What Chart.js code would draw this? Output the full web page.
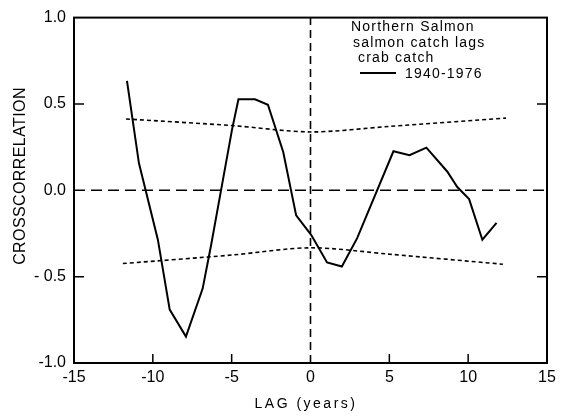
<!DOCTYPE html>
<html>
<head>
<meta charset="utf-8">
<script src="https://cdn.jsdelivr.net/npm/chart.js@4/dist/chart.umd.min.js"></script>
<style>
  html, body { margin: 0; padding: 0; background: #fff; }
  #wrap { width: 563px; height: 417px; position: relative; }
</style>
</head>
<body>
<div id="wrap"><canvas id="c" width="563" height="417"></canvas></div>
<script>
// Main crosscorrelation series (lag in years, correlation)
const lags = [-11.64, -10.88, -9.68, -8.93, -7.90, -6.84, -6.3, -4.98, -4.57, -3.52, -2.70, -1.73, -0.91, 0.04, 1.05, 1.99, 2.96, 5.26, 6.28, 7.35, 8.67, 9.31, 10.06, 10.9, 11.8];
const corr = [0.633, 0.156, -0.286, -0.691, -0.847, -0.569, -0.315, 0.35, 0.527, 0.527, 0.495, 0.222, -0.145, -0.258, -0.418, -0.441, -0.277, 0.226, 0.203, 0.247, 0.109, 0.019, -0.051, -0.286, -0.188];

// Confidence bands (dotted)
const upperLags = [-11.7, -5, 0, 5, 12.4];
const upperVals = [0.413, 0.375, 0.338, 0.37, 0.418];
const lowerLags = [-11.9, -5, 0, 5, 12.2];
const lowerVals = [-0.424, -0.375, -0.333, -0.37, -0.428];

// Axis ticks
const xTicks = [-15, -10, -5, 0, 5, 10, 15];
const xTickLabels = ['-15', '-10', '-5', '0', '5', '10', '15'];
const yTicks = [-1.0, -0.5, 0.0, 0.5, 1.0];
const yTickLabels = ['-1.0', '- 0.5', '0.0', '0.5', '1.0'];

// Legend / annotation text
const legendLines = ['Northern Salmon', 'salmon catch lags', 'crab catch'];
const legendSeries = '1940-1976';
const xTitle = 'LAG (years)';
const yTitle = 'CROSSCORRELATION';

const toXY = (xs, ys) => xs.map((x, i) => ({ x: x, y: ys[i] }));

const FONT = '"Liberation Sans", Arial, sans-serif';

const decor = {
  id: 'decor',
  afterDraw(chart) {
    const ctx = chart.ctx;
    const a = chart.chartArea;
    const xs = chart.scales.x, ys = chart.scales.y;
    ctx.save();
    // frame
    ctx.strokeStyle = '#000';
    ctx.lineWidth = 2;
    ctx.setLineDash([]);
    ctx.strokeRect(a.left, a.top, a.right - a.left, a.bottom - a.top);
    // inward ticks
    ctx.lineWidth = 1.5;
    ctx.beginPath();
    [-10, -5, 5, 10].forEach(v => {
      const px = xs.getPixelForValue(v);
      ctx.moveTo(px, a.bottom);
      ctx.lineTo(px, a.bottom - 9);
    });
    [-0.5, 0.5].forEach(v => {
      const py = ys.getPixelForValue(v);
      ctx.moveTo(a.left, py);
      ctx.lineTo(a.left + 10, py);
      ctx.moveTo(a.right, py);
      ctx.lineTo(a.right - 10, py);
    });
    ctx.stroke();
    // legend text
    ctx.fillStyle = '#000';
    ctx.font = '14px ' + FONT;
    ctx.textBaseline = 'middle';
    ctx.textAlign = 'left';
    try { ctx.letterSpacing = '1.2px'; } catch (e) {}
    ctx.fillText(legendLines[0], 351, 27);
    ctx.fillText(legendLines[1], 353, 43);
    ctx.fillText(legendLines[2], 358, 58);
    ctx.fillText(legendSeries, 405, 74);
    ctx.lineWidth = 2;
    ctx.beginPath();
    ctx.moveTo(360, 73);
    ctx.lineTo(396, 73);
    ctx.stroke();
    // axis titles
    ctx.font = '14px ' + FONT;
    try { ctx.letterSpacing = '2.5px'; } catch (e) {}
    ctx.textAlign = 'center';
    ctx.fillText(xTitle, 306, 404);
    try { ctx.letterSpacing = '0.4px'; } catch (e) {}
    ctx.font = '16px ' + FONT;
    ctx.translate(21, 176);
    ctx.rotate(-Math.PI / 2);
    ctx.fillText(yTitle, 0, 0);
    ctx.restore();
  }
};

new Chart(document.getElementById('c'), {
  type: 'scatter',
  data: {
    datasets: [
      {
        data: toXY(lags, corr),
        showLine: true, borderColor: '#000', borderWidth: 2,
        pointRadius: 0, tension: 0, fill: false
      },
      {
        data: toXY(upperLags, upperVals),
        showLine: true, borderColor: '#000', borderWidth: 1.6, borderDash: [4, 3],
        pointRadius: 0, tension: 0.3, fill: false
      },
      {
        data: toXY(lowerLags, lowerVals),
        showLine: true, borderColor: '#000', borderWidth: 1.6, borderDash: [4, 3],
        pointRadius: 0, tension: 0.3, fill: false
      },
      {
        data: toXY([-15, 15], [0, 0]),
        showLine: true, borderColor: '#000', borderWidth: 1.6, borderDash: [11, 6],
        pointRadius: 0, fill: false
      },
      {
        data: toXY([0, 0], [-1, 1]),
        showLine: true, borderColor: '#000', borderWidth: 1.6, borderDash: [8, 5],
        pointRadius: 0, fill: false
      }
    ]
  },
  options: {
    responsive: false,
    animation: false,
    events: [],
    layout: { padding: { top: 9, right: 16, left: 0, bottom: 0 } },
    plugins: { legend: { display: false }, tooltip: { enabled: false } },
    scales: {
      x: {
        type: 'linear', min: -15, max: 15,
        grid: { display: false, drawTicks: false },
        border: { display: false },
        afterBuildTicks: s => { s.ticks = xTicks.map(v => ({ value: v })); },
        afterFit: s => { s.height = 54; },
        ticks: {
          padding: 5, color: '#000', font: { family: FONT, size: 16 },
          maxRotation: 0, autoSkip: false,
          callback: (v) => { const i = xTicks.indexOf(v); return i >= 0 ? xTickLabels[i] : ''; }
        }
      },
      y: {
        type: 'linear', min: -1, max: 1,
        grid: { display: false, drawTicks: false },
        border: { display: false },
        afterBuildTicks: s => { s.ticks = yTicks.map(v => ({ value: v })); },
        afterFit: s => { s.width = 74; },
        ticks: {
          padding: 8, color: '#000', font: { family: FONT, size: 16 },
          autoSkip: false,
          callback: (v) => { const i = yTicks.findIndex(t => Math.abs(t - v) < 1e-9); return i >= 0 ? yTickLabels[i] : ''; }
        }
      }
    }
  },
  plugins: [decor]
});
</script>
</body>
</html>
